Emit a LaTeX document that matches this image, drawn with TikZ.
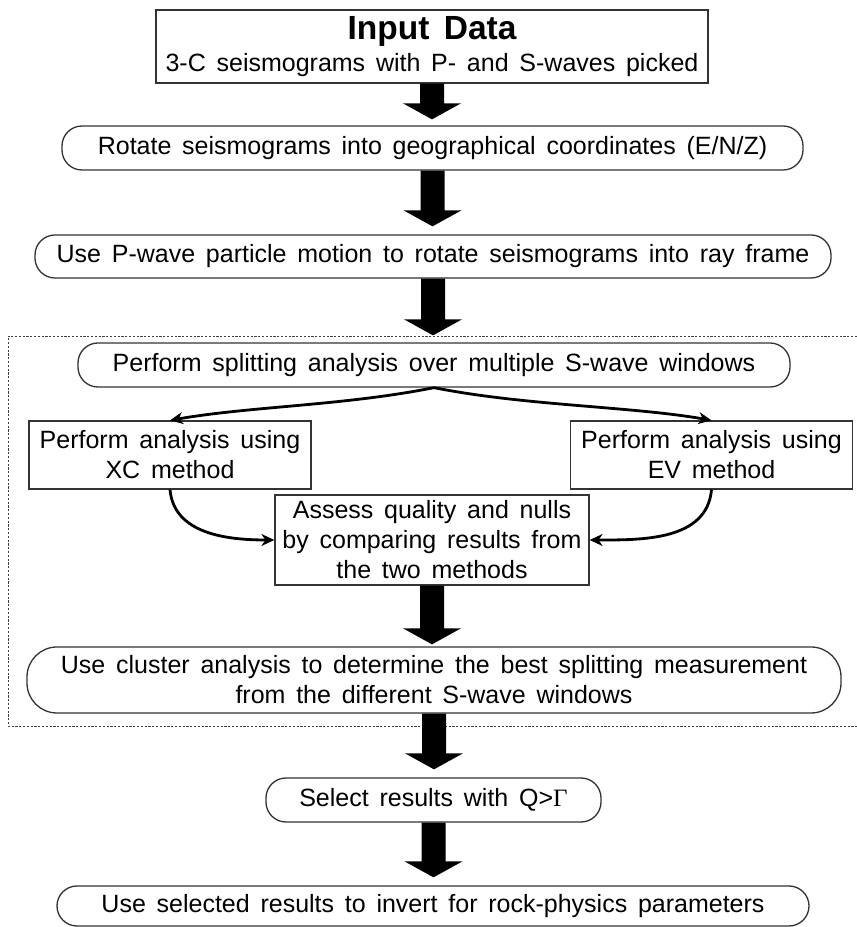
\documentclass[tikz,border=0pt]{standalone}
\usepackage{fontspec}
\setmainfont{Liberation Sans}[WordSpace=1.55]
\newfontfamily\gammafont{Liberation Serif}
\usetikzlibrary{calc,arrows.meta}
\newcommand\blockarrow[3]{%
  \fill[black] let \p1=(#1.south), \p2=(#2.north) in
  (\x1-12pt,\y1) -- (\x1+12pt,\y1) -- (\x1+12pt,\y2+#3pt+16pt) -- (\x1+29pt,\y2+#3pt+16pt)
  -- (\x1,\y2+#3pt) -- (\x1-29pt,\y2+#3pt+16pt) -- (\x1-12pt,\y2+#3pt+16pt) -- cycle;}
\begin{document}
\begin{tikzpicture}[x=1pt,y=1pt,
  box/.style={draw=black!80, line width=1.3pt, inner sep=0pt, align=center,
    font=\fontsize{25}{30}\selectfont},
  rbox/.style={box, rounded corners=20pt},
  conn/.style={line width=2.8pt, -{Stealth[length=13pt,width=12pt]}},
  dashline/.style={draw=black!75, line width=0.9pt, dash pattern=on 2.2pt off 1.6pt}
]
\useasboundingbox (0,0) rectangle (857,927);

\node[box, minimum width=552pt, minimum height=73pt] (input) at (432,880.5)
  {{\fontsize{33.5}{35}\selectfont\bfseries Input Data}\\[2pt]
   {\fontsize{25}{27}\selectfont 3-C seismograms with P- and S-waves picked}};
\node[rbox, minimum width=741pt, minimum height=44pt] (rot) at (432.5,779)
  {Rotate seismograms into geographical coordinates (E/N/Z)};
\node[rbox, minimum width=796pt, minimum height=43pt] (ray) at (433,670.5)
  {Use P-wave particle motion to rotate seismograms into ray frame};

\draw[dashline] (857,591) -- (8,591) -- (8,201) -- (857,201);

\node[rbox, minimum width=712pt, minimum height=44pt] (split) at (434,562)
  {Perform splitting analysis over multiple S-wave windows};
\node[box, minimum width=282pt, minimum height=68pt] (xc) at (170,472)
  {Perform analysis using\\XC method};
\node[box, minimum width=282pt, minimum height=68pt] (ev) at (711.5,472)
  {Perform analysis using\\EV method};
\node[box, minimum width=314pt, minimum height=90pt] (assess) at (432,387)
  {Assess quality and nulls\\by comparing results from\\the two methods};
\node[box, rounded corners=30pt, minimum width=814pt, minimum height=66pt] (cluster) at (434,247)
  {Use cluster analysis to determine the best splitting measurement\\from the different S-wave windows};
\node[rbox, minimum width=335pt, minimum height=44pt] (select) at (433.5,127)
  {Select results with Q>{\gammafont Γ}};
\node[rbox, minimum width=752pt, minimum height=40pt] (final) at (433,21)
  {Use selected results to invert for rock-physics parameters};

\blockarrow{input}{rot}{6}
\blockarrow{rot}{ray}{8}
\blockarrow{ray}{split}{7}
\blockarrow{assess}{cluster}{2}
\blockarrow{cluster}{select}{8}
\blockarrow{select}{final}{8}

\draw[conn] (split.south) .. controls ($(split.south)+(-90,-18)$) and ($(xc.north)+(80,14)$) .. (xc.north);
\draw[conn] (split.south) .. controls ($(split.south)+(90,-18)$) and ($(ev.north)+(-80,14)$) .. (ev.north);
\draw[conn] (xc.south) to[out=-85,in=180] (assess.west);
\draw[conn] (ev.south) to[out=-95,in=0] (assess.east);
\end{tikzpicture}
\end{document}
